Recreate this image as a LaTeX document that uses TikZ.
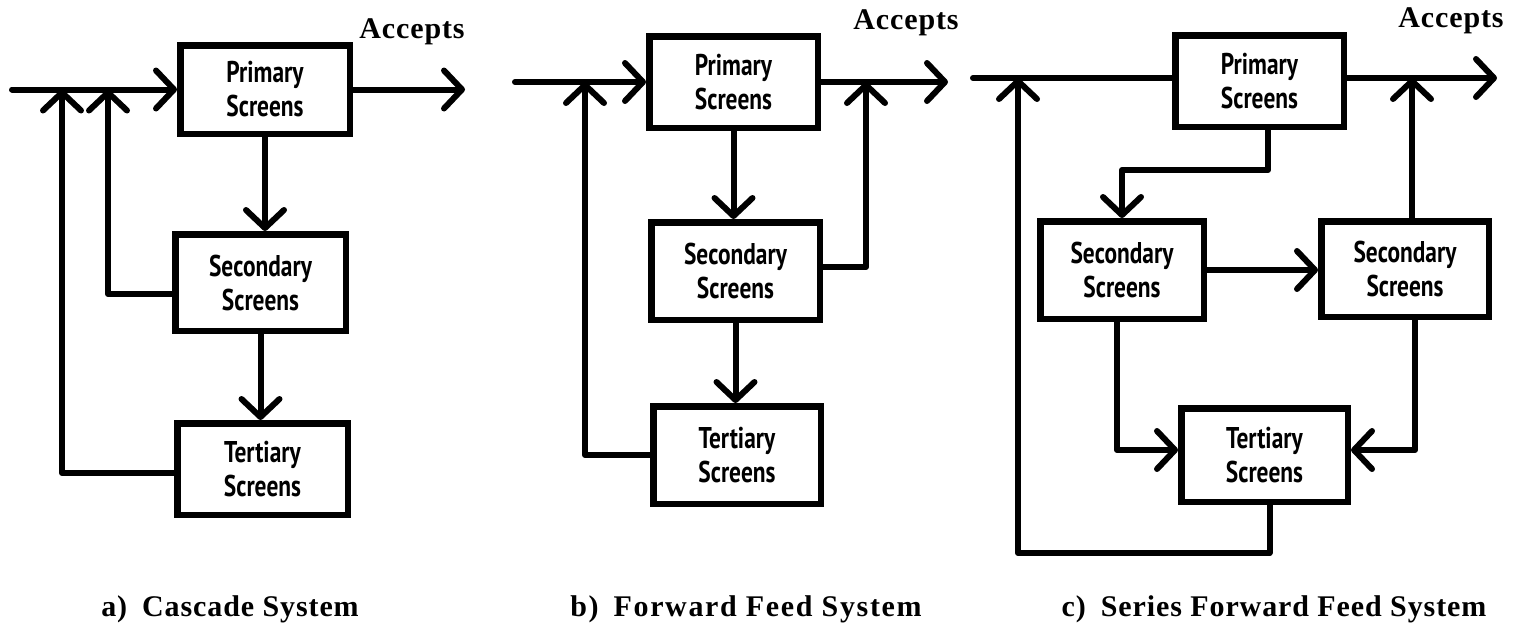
\documentclass[tikz,border=0pt]{standalone}
\usepackage{fontspec}
\usetikzlibrary{arrows.meta,calc}
\newfontfamily\boxfont[FakeStretch=0.78]{PT Sans}
\newfontfamily\capfont[LetterSpace=3]{Liberation Serif}
\newfontfamily\capwidefont[LetterSpace=5.5]{Liberation Serif}
\begin{document}
\begin{tikzpicture}[x=1pt,y=-1pt,
  box/.style={draw, line width=6.5pt, align=center, inner sep=0pt,
    font=\boxfont\bfseries\fontsize{30}{34}\selectfont},
  ln/.style={line width=6pt, line cap=round, line join=round},
  arr/.style={ln, -{Straight Barb[length=18pt,width=38pt,round]}},
  lbl/.style={font=\capfont\bfseries\fontsize{30}{36}\selectfont, anchor=base}]
\useasboundingbox (0,0) rectangle (1515,635);
% ---------- panel a ----------
\node[box, minimum width=169.5pt, minimum height=88.5pt] (Pa) at (265,89.5) {Primary\\Screens};
\node[box, minimum width=170.5pt, minimum height=96.5pt] (Sa) at (260.5,282.5) {Secondary\\Screens};
\node[box, minimum width=170.5pt, minimum height=91.5pt] (Ta) at (262.5,469) {Tertiary\\Screens};
\coordinate (ina) at (12,89.5);
\coordinate (outa) at (465,89.5);
\coordinate (fa1) at (108,89.5);
\coordinate (fa2) at (62,89.5);
\draw[arr] (ina) -- (Pa.west);
\draw[arr] (Pa.east) -- (outa);
\draw[arr] (Pa.south) -- (Pa.south |- Sa.north);
\draw[arr] (Sa.south) -- (Sa.south |- Ta.north);
\draw[arr] ($(Sa.west)+(0,11.5)$) -| (fa1);
\draw[arr] ($(Ta.west)+(0,4)$) -| (fa2);
\node[lbl] (acca) at (412,38) {Accepts};
% ---------- panel b ----------
\node[box, minimum width=168.5pt, minimum height=91.5pt] (Pb) at (733.5,82) {Primary\\Screens};
\node[box, minimum width=168.5pt, minimum height=97.5pt] (Sb) at (735.5,271) {Secondary\\Screens};
\node[box, minimum width=167.5pt, minimum height=97.5pt] (Tb) at (737,455) {Tertiary\\Screens};
\coordinate (inb) at (515,82);
\coordinate (outb) at (948,82);
\coordinate (fb1) at (585,82);
\coordinate (fb2) at (866,82);
\draw[arr] (inb) -- (Pb.west);
\draw[arr] (Pb.east) -- (outb);
\draw[arr] (Pb.south) -- (Pb.south |- Sb.north);
\draw[arr] (Sb.south) -- (Sb.south |- Tb.north);
\draw[arr] (Tb.west) -| (fb1);
\draw[arr] ($(Sb.east)+(0,-4)$) -| (fb2);
\node[lbl] (accb) at (906,29) {Accepts};
% ---------- panel c ----------
\node[box, minimum width=168.5pt, minimum height=91.5pt] (Pc) at (1259.5,81) {Primary\\Screens};
\node[box, minimum width=163.5pt, minimum height=97.5pt] (Sl) at (1122,270) {Secondary\\Screens};
\node[box, minimum width=167.5pt, minimum height=95.5pt] (Sr) at (1405,269) {Secondary\\Screens};
\node[box, minimum width=166.5pt, minimum height=93.5pt] (Tc) at (1264.5,455) {Tertiary\\Screens};
\coordinate (inc) at (973,78);
\coordinate (outc) at (1497,78);
\coordinate (fc1) at (1018,78);
\coordinate (jc) at (1412,78);
\coordinate (kc) at (1268,170);
\coordinate (mc) at (1018,553);
\draw[ln] (inc) -- (inc -| Pc.west);
\draw[arr] (Pc.east |- outc) -- (outc);
\draw[arr] (jc |- Sr.north) -- (jc);
\draw[arr] (kc |- Pc.south) -- (kc) -| (Sl.north);
\draw[arr] (Sl.east) -- (Sl.east -| Sr.west);
\draw[arr] ($(Sl.south)+(-5,0)$) |- ($(Tc.west)+(0,-5)$);
\draw[arr] ($(Sr.south)+(10,0)$) |- ($(Tc.east)+(0,-5)$);
\draw[arr] ($(Tc.south)+(5,0)$) |- (mc) -- (fc1);
\node[lbl] (accc) at (1451,27) {Accepts};
% ---------- captions ----------
\node[lbl] (capa) at (230,616) {a)\hspace{0.5em}Cascade System};
\node[lbl, font=\capwidefont\bfseries\fontsize{30}{36}\selectfont] (capb) at (746,616) {b)\hspace{0.5em}Forward Feed System};
\node[lbl] (capc) at (1274,616) {c)\hspace{0.5em}Series Forward Feed System};
\end{tikzpicture}
\end{document}
